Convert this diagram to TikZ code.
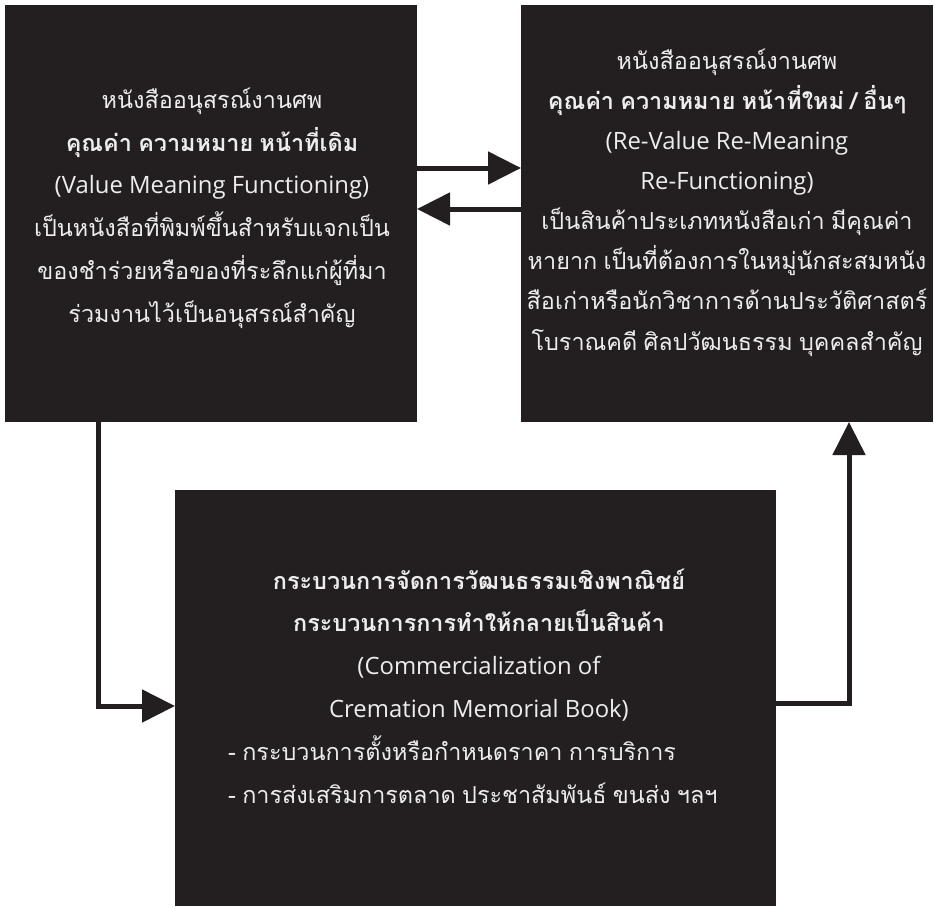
\documentclass[tikz,border=0pt]{standalone}
\usepackage{fontspec}
\setmainfont{Loma}[Script=Thai,WordSpace=0.8]
\newfontfamily\latf{Open Sans}[Scale=1.02]
\usetikzlibrary{arrows.meta}
\definecolor{boxc}{HTML}{231F20}
\definecolor{txtc}{HTML}{EDEDED}
\begin{document}
\begin{tikzpicture}[x=1pt,y=-1pt,
  box/.style={fill=boxc, draw=none, outer sep=0pt, inner sep=0pt},
  txt/.style={text=txtc, font=\fontsize{23.4}{42.8}\selectfont, align=center, inner sep=0pt},
  txtb/.style={txt, font=\fontsize{23.4}{40.1}\selectfont},
  arr/.style={draw=boxc, line width=5pt, -{Triangle[length=33pt,width=32pt]}}]
\useasboundingbox (0,0) rectangle (935,908);
\node[box, minimum width=412pt, minimum height=417pt] (b1) at (211,213.5) {};
\node[box, minimum width=412pt, minimum height=417pt] (b2) at (727,213.5) {};
\node[box, minimum width=601pt, minimum height=416pt] (b3) at (475.5,698) {};
\node[txt] (t1) at (212,208) {หนังสืออนุสรณ์งานศพ\\
\textbf{คุณค่า ความหมาย หน้าที่เดิม}\\
{\latf (Value Meaning Functioning)}\\
เป็นหนังสือที่พิมพ์ขึ้นสำหรับแจกเป็น\\
ของชำร่วยหรือของที่ระลึกแก่ผู้ที่มา\\
ร่วมงานไว้เป็นอนุสรณ์สำคัญ};
\node[txtb] (t2) at (727,202.5) {หนังสืออนุสรณ์งานศพ\\
\textbf{คุณค่า ความหมาย หน้าที่ใหม่ / อื่นๆ}\\
{\latf (Re-Value Re-Meaning}\\
{\latf Re-Functioning)}\\
เป็นสินค้าประเภทหนังสือเก่า มีคุณค่า\\
หายาก เป็นที่ต้องการในหมู่นักสะสมหนัง\\
สือเก่าหรือนักวิชาการด้านประวัติศาสตร์\\
โบราณคดี ศิลปวัฒนธรรม บุคคลสำคัญ};
\node[txt] (t3) at (479,645) {\textbf{กระบวนการจัดการวัฒนธรรมเชิงพาณิชย์}\\
\textbf{กระบวนการการทำให้กลายเป็นสินค้า}\\
{\latf (Commercialization of}\\
{\latf Cremation Memorial Book)}};
\node[txt, align=left, anchor=west] (t4) at (228,769.5) {- กระบวนการตั้งหรือกำหนดราคา การบริการ\\
- การส่งเสริมการตลาด ประชาสัมพันธ์ ขนส่ง ฯลฯ};
\coordinate (ya) at (0,168);
\coordinate (yb) at (0,209);
\coordinate (xc) at (98,0);
\coordinate (yc) at (0,706);
\coordinate (xd) at (849,0);
\coordinate (yd) at (0,703);
\draw[arr] (b1.east |- ya) -- (b2.west |- ya);
\draw[arr] (b2.west |- yb) -- (b1.east |- yb);
\draw[arr] (b1.south -| xc) |- (b3.west |- yc);
\draw[arr] (b3.east |- yd) -| (b2.south -| xd);
\end{tikzpicture}
\end{document}
